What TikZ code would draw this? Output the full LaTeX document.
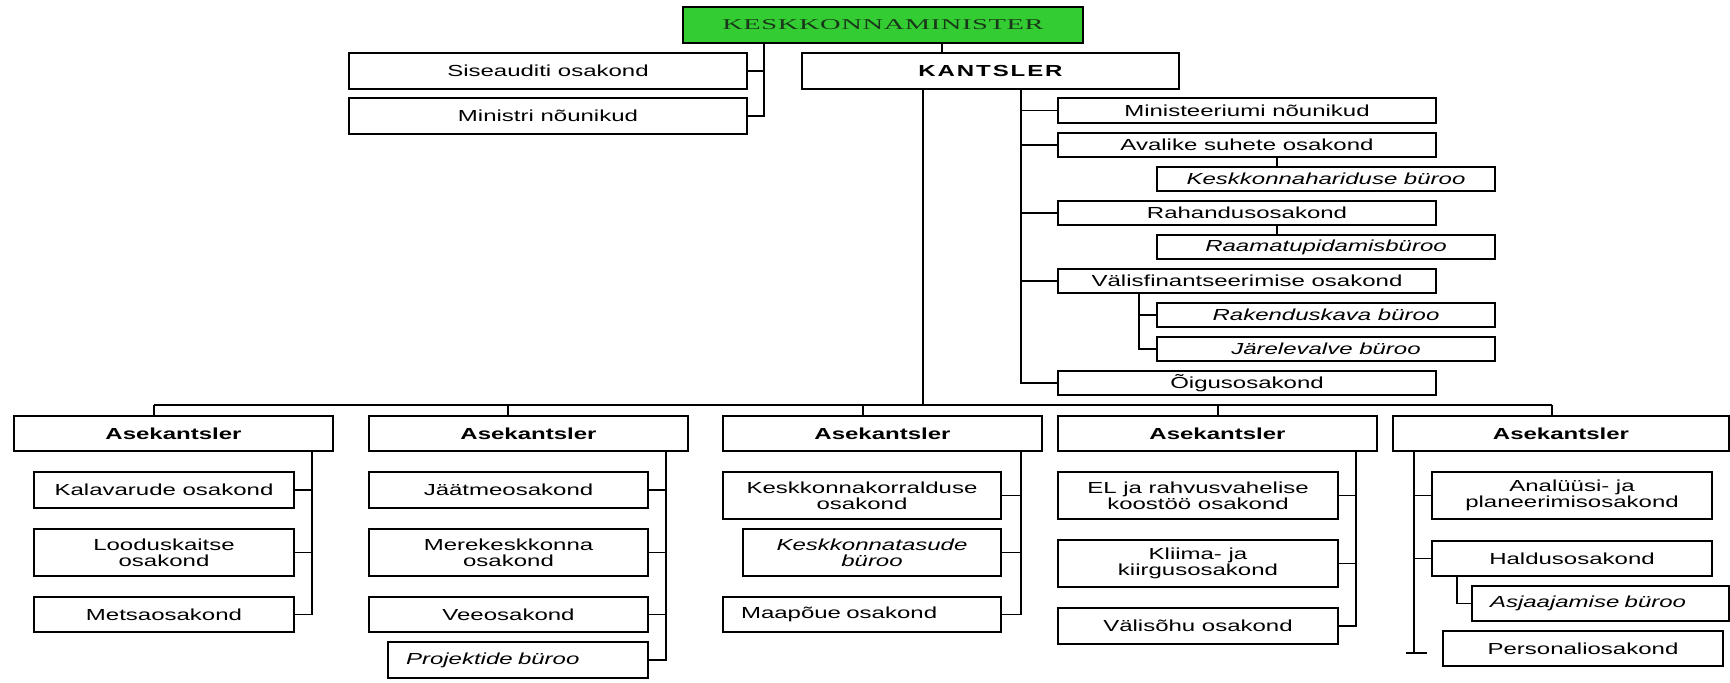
\documentclass[tikz,border=0pt]{standalone}
\usepackage{fontspec}
\setmainfont{Liberation Sans}[FakeStretch=1.5]
\newfontfamily\titlefont{Liberation Serif}[FakeStretch=1.9,LetterSpace=4]
\definecolor{mingreen}{RGB}{51,204,51}
\definecolor{mintext}{RGB}{25,55,25}
\begin{document}
\begin{tikzpicture}[x=0.5pt,y=-0.5pt,line width=0.8pt,
    box/.style 2 args={draw, inner sep=0pt, align=center,
      minimum width={#1*0.5pt}, minimum height={#2*0.5pt},
      font=\fontsize{8}{7.8}\selectfont},
    lbox/.style 2 args={draw, inner xsep=9pt, inner ysep=0pt, align=left,
      text width={(#1-36)*0.5pt}, minimum height={#2*0.5pt},
      font=\fontsize{8}{7.8}\selectfont\itshape},
    head/.style={font=\fontsize{8}{7.8}\selectfont\bfseries},
    ital/.style={font=\fontsize{8}{7.8}\selectfont\itshape}]
    \path[use as bounding box, fill=white] (0,0) rectangle (1730,683);

    \node [box={400}{36}, fill=mingreen, text=mintext,
      font=\fontsize{7.5}{8}\selectfont\titlefont] (minister) at (883,25) {KESKKONNAMINISTER};
    \node [box={398}{36}] (sise) at (548,71) {Siseauditi osakond};
    \node [box={398}{36}] (ministri) at (548,116) {Ministri nõunikud};
    \node [box={377}{36}, font=\fontsize{8}{7.8}\selectfont\bfseries\addfontfeature{LetterSpace=12}]
      (kantsler) at (990.5,71) {KANTSLER};

    \node [box={378}{25}] (minnou) at (1247,110.5) {Ministeeriumi nõunikud};
    \node [box={378}{24}] (avalik) at (1247,145) {Avalike suhete osakond};
    \node [box={338}{24}, ital] (haridus) at (1326,179) {Keskkonnahariduse büroo};
    \node [box={378}{24}] (rahandus) at (1247,213) {Rahandusosakond};
    \node [box={338}{24}, ital] (raamat) at (1326,247) {Raamatupidamisbüroo};
    \node [box={378}{24}] (valisfin) at (1247,281) {Välisfinantseerimise osakond};
    \node [box={338}{24}, ital] (rakendus) at (1326,315) {Rakenduskava büroo};
    \node [box={338}{24}, ital] (jarele) at (1326,349) {Järelevalve büroo};
    \node [box={378}{24}] (oigus) at (1247,383) {Õigusosakond};

    \foreach \n/\x/\w in {ase1/173.5/319, ase2/528.5/319, ase3/882.5/319, ase4/1217.5/319, ase5/1561/336}
      \node [box={\w}{35}, head] (\n) at (\x,433.5) {Asekantsler};

    \node [box={260}{36}] (kala) at (164,490) {Kalavarude osakond};
    \node [box={260}{47}] (loodus) at (164,552.5) {Looduskaitse\\osakond};
    \node [box={260}{35}] (metsa) at (164,614.5) {Metsaosakond};

    \node [box={279}{36}] (jaatme) at (508.5,490) {Jäätmeosakond};
    \node [box={279}{47}] (mere) at (508.5,552.5) {Merekeskkonna\\osakond};
    \node [box={279}{35}] (vee) at (508.5,614.5) {Veeosakond};
    \node [lbox={260}{36}] (projekt) at (518,660) {Projektide büroo};

    \node [box={278}{47}] (korraldus) at (862,495.5) {Keskkonnakorralduse\\osakond};
    \node [box={258}{47}, ital] (tasude) at (872,552.5) {Keskkonnatasude\\büroo};
    \node [lbox={278}{35}, font=\fontsize{8}{7.8}\selectfont] (maapoue) at (862,614.5) {Maapõue osakond};

    \node [box={280}{47}] (el) at (1198,495.5) {EL ja rahvusvahelise\\koostöö osakond};
    \node [box={280}{47}] (kliima) at (1198,563.5) {Kliima- ja\\kiirgusosakond};
    \node [box={280}{36}] (valisohu) at (1198,626) {Välisõhu osakond};

    \node [box={280}{47}] (analuusi) at (1572,495.5) {Analüüsi- ja\\planeerimisosakond};
    \node [box={280}{35}] (haldus) at (1572,558.5) {Haldusosakond};
    \node [lbox={257}{35}] (asja) at (1600.5,603.5) {Asjaajamise büroo};
    \node [box={280}{35}] (personal) at (1583,648.5) {Personaliosakond};

    \coordinate (mstem) at (764,0);
    \draw (minister.south -| mstem) |- (ministri.east);
    \draw (mstem |- sise.east) -- (sise.east);
    \coordinate (kstem) at (942,0);
    \draw (minister.south -| kstem) -- (kantsler.north -| kstem);

    \coordinate (trunk) at (923,405);
    \draw (kantsler.south -| trunk) -- (trunk);
    \foreach \n/\x in {ase1/154, ase2/508, ase3/863, ase4/1218, ase5/1552}
    {
      \coordinate (\n s) at (\x,405);
      \draw (\n s) -- (\n.north -| \n s);
    }
    \draw (ase1s) -- (ase5s);

    \coordinate (rtrunk) at (1021,0);
    \draw (kantsler.south -| rtrunk) |- (oigus.west);
    \foreach \n in {minnou,avalik,rahandus,valisfin}
      \draw (rtrunk |- \n.west) -- (\n.west);
    \coordinate (sub) at (1277,0);
    \draw (avalik.south -| sub) -- (haridus.north -| sub);
    \draw (rahandus.south -| sub) -- (raamat.north -| sub);
    \coordinate (vtrunk) at (1139,0);
    \draw (valisfin.south -| vtrunk) |- (jarele.west);
    \draw (vtrunk |- rakendus.west) -- (rakendus.west);

    \coordinate (t1) at (312,0);
    \draw (ase1.south -| t1) |- (metsa.east);
    \foreach \n in {kala,loodus}
      \draw (t1 |- \n.east) -- (\n.east);
    \coordinate (t2) at (666,0);
    \draw (ase2.south -| t2) |- (projekt.east);
    \foreach \n in {jaatme,mere,vee}
      \draw (t2 |- \n.east) -- (\n.east);
    \coordinate (t3) at (1021,0);
    \draw (ase3.south -| t3) |- (maapoue.east);
    \foreach \n in {korraldus,tasude}
      \draw (t3 |- \n.east) -- (\n.east);
    \coordinate (t4) at (1356,0);
    \draw (ase4.south -| t4) |- (valisohu.east);
    \foreach \n in {el,kliima}
      \draw (t4 |- \n.east) -- (\n.east);

    \coordinate (t5) at (1414,0);
    \coordinate (t5end) at (1414,653);
    \draw (ase5.south -| t5) -- (t5end);
    \draw ([xshift=-4pt]t5end) -- ([xshift=6.5pt]t5end);
    \foreach \n in {analuusi,haldus}
      \draw (t5 |- \n.west) -- (\n.west);
    \coordinate (t6) at (1457,0);
    \draw (haldus.south -| t6) |- (asja.west);
\end{tikzpicture}
\end{document}
